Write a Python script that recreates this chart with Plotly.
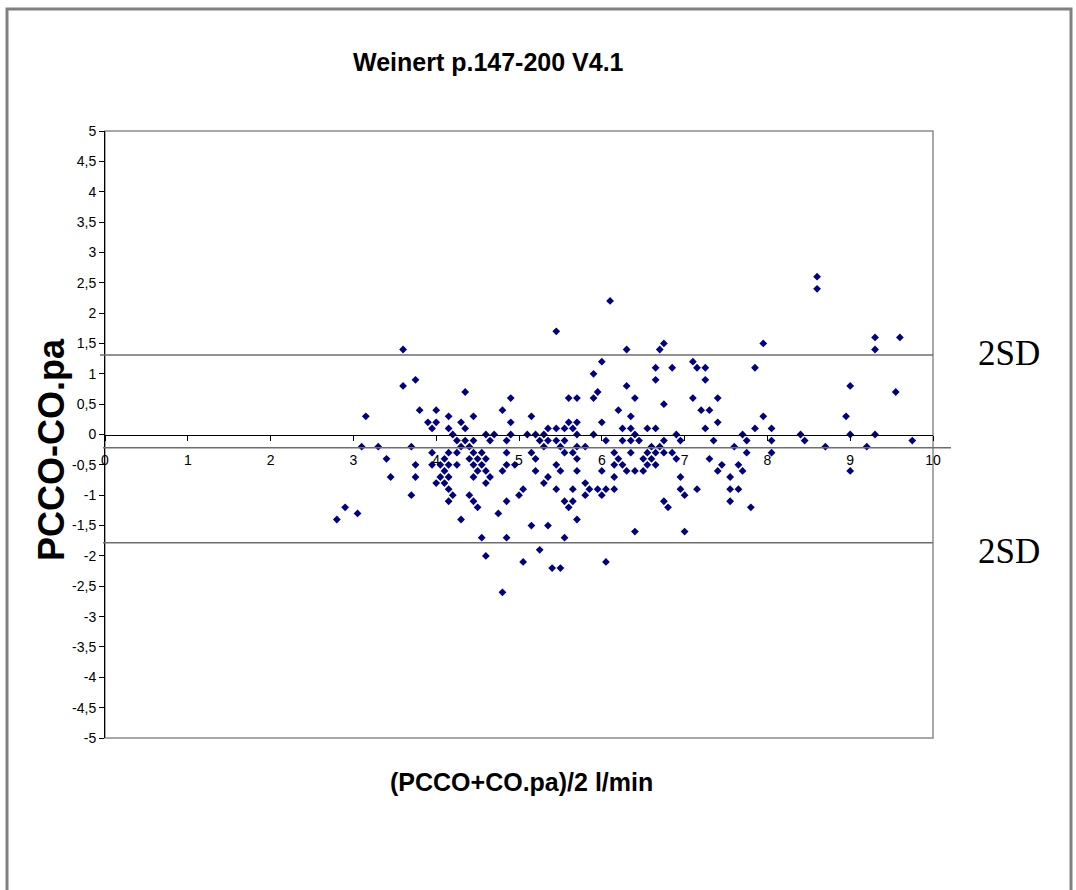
import plotly.graph_objects as go

# Bland-Altman data: mean of the two cardiac output readings (l/min)
# against their difference (PCCO - CO.pa), one entry per measurement pair.
mean_co = [
    8.6,
    8.6,
    6.1,
    5.45,
    9.3, 9.6,
    6.75, 7.95,
    3.6, 6.3, 6.7, 9.3,
    6.0, 7.1,
    6.65, 6.85, 7.15, 7.25, 7.85,
    5.9,
    3.75, 6.65, 7.25,
    3.6, 6.3, 9.0,
    4.35, 5.95, 9.55,
    4.9, 5.6, 5.7, 5.9, 6.4, 7.1, 7.4,
    6.75,
    3.8, 4.0, 4.8, 6.2, 7.2, 7.3,
    3.15, 4.15, 4.45, 5.15, 6.35, 7.95, 8.95,
    3.9, 4.0, 4.3, 4.9, 5.6, 5.7, 6.0, 7.4,
    3.95, 4.15, 4.35, 5.35, 5.45, 5.55, 5.65, 6.25, 6.35, 6.55, 6.65, 7.25, 7.85, 8.05,
    4.2, 4.6, 4.7, 4.9, 5.1, 5.2, 5.3, 5.7, 5.9, 6.4, 6.9, 7.7, 8.4, 9.0, 9.3,
    4.25, 4.35, 4.45, 4.65, 4.85, 5.25, 5.35, 5.45, 5.55, 6.05, 6.25, 6.35, 6.45, 6.75, 6.95, 7.35, 7.75, 8.05, 8.45, 9.75,
    3.1, 3.3, 3.7, 4.3, 4.4, 5.3, 5.5, 5.7, 5.8, 6.6, 6.7, 7.6, 8.7, 9.2,
    3.95, 4.15, 4.25, 4.45, 4.55, 4.85, 5.15, 5.55, 5.65, 6.15, 6.35, 6.55, 6.65, 6.75, 6.85, 7.75, 8.05,
    3.4, 4.1, 4.4, 4.5, 4.6, 5.2, 5.7, 6.2, 6.5, 6.6, 6.9, 7.3,
    3.75, 3.95, 4.05, 4.15, 4.25, 4.45, 4.55, 4.85, 4.95, 5.45, 6.15, 6.25, 6.55, 6.65, 7.45, 7.65,
    4.1, 4.5, 4.6, 4.8, 5.2, 5.5, 5.7, 6.0, 6.3, 6.4, 6.5, 7.4, 7.7, 9.0,
    3.45, 3.75, 4.05, 4.15, 4.45, 4.65, 5.35, 6.15, 6.95, 7.55,
    4.0, 4.1, 4.6, 5.3, 5.8,
    4.15, 5.05, 5.45, 5.65, 5.85, 5.95, 6.05, 6.15, 6.95, 7.15, 7.55, 7.65,
    3.7, 4.2, 4.4, 5.0, 5.8, 6.0, 7.0,
    4.15, 4.45, 4.85, 5.55, 5.65, 6.75, 7.55,
    2.9, 4.5, 5.6, 6.8, 7.8,
    3.05, 4.75,
    2.8, 4.3, 5.7,
    5.15, 5.35,
    6.4, 7.0,
    4.55, 4.85, 5.55,
    5.25,
    4.6,
    5.05, 6.05,
    5.4, 5.5,
    4.8,
]
diff_co = (
    [2.6] * 1 + [2.4] * 1 + [2.2] * 1 + [1.7] * 1 + [1.6] * 2 + [1.5] * 2
    + [1.4] * 4 + [1.2] * 2 + [1.1] * 5 + [1.0] * 1 + [0.9] * 3 + [0.8] * 3
    + [0.7] * 3 + [0.6] * 7 + [0.5] * 1 + [0.4] * 6 + [0.3] * 7 + [0.2] * 8
    + [0.1] * 14 + [0.0] * 15 + [-0.1] * 20 + [-0.2] * 14 + [-0.3] * 17
    + [-0.4] * 12 + [-0.5] * 16 + [-0.6] * 14 + [-0.7] * 10 + [-0.8] * 5
    + [-0.9] * 12 + [-1.0] * 7 + [-1.1] * 7 + [-1.2] * 5 + [-1.3] * 2
    + [-1.4] * 3 + [-1.5] * 2 + [-1.6] * 2 + [-1.7] * 3 + [-1.9] * 1
    + [-2.0] * 1 + [-2.1] * 2 + [-2.2] * 2 + [-2.6] * 1
)

# Mean difference and the +/- 2 SD limits of agreement
mean_diff = -0.22
upper_2sd = 1.31
lower_2sd = -1.785

y_ticks = [5, 4.5, 4, 3.5, 3, 2.5, 2, 1.5, 1, 0.5, 0, -0.5, -1, -1.5, -2,
           -2.5, -3, -3.5, -4, -4.5, -5]
y_tick_labels = ["5", "4,5", "4", "3,5", "3", "2,5", "2", "1,5", "1", "0,5", "0",
                 "-0,5", "-1", "-1,5", "-2", "-2,5", "-3", "-3,5", "-4", "-4,5", "-5"]
x_ticks = list(range(0, 11))
x_tick_labels = [str(v) for v in x_ticks]

W, H = 1076, 890
ML, MR, MT, MB = 105, 143, 131, 152
PW, PH = W - ML - MR, H - MT - MB


def px(x):
    return (x - ML) / PW


def py(y):
    return (H - MB - y) / PH


fig = go.Figure()
fig.add_trace(go.Scatter(
    x=mean_co, y=diff_co, mode="markers",
    marker=dict(symbol="diamond", size=6, color="#000080",
                line=dict(width=0)),
    showlegend=False, hoverinfo="x+y",
))

grey = "#6e6e6e"
shapes = [
    # plot area frame (top, right, bottom)
    dict(type="rect", xref="paper", yref="paper", x0=0, x1=1, y0=0, y1=1,
         line=dict(color="#8c8c8c", width=1.5), layer="below"),
    # outer chart border
    dict(type="rect", xref="paper", yref="paper", x0=px(7), x1=px(1071),
         y0=py(900), y1=py(9), line=dict(color="#808080", width=3)),
    # mean difference
    dict(type="line", xref="paper", yref="y", x0=px(103), x1=px(951),
         y0=mean_diff, y1=mean_diff, line=dict(color=grey, width=1.5)),
    # limits of agreement
    dict(type="line", xref="paper", yref="y", x0=px(100), x1=1,
         y0=upper_2sd, y1=upper_2sd, line=dict(color=grey, width=1.5)),
    dict(type="line", xref="paper", yref="y", x0=px(103), x1=1,
         y0=lower_2sd, y1=lower_2sd, line=dict(color=grey, width=1.5)),
]

label_font = dict(family="Liberation Sans, Arial", size=25, color="black")
sd_font = dict(family="Liberation Serif, Times New Roman", size=35, color="black")
annotations = [
    dict(text="<b>Weinert p.147-200 V4.1</b>", xref="paper", yref="paper",
         x=px(488), y=py(62), showarrow=False, font=label_font,
         xanchor="center", yanchor="middle"),
    dict(text="<b>(PCCO+CO.pa)/2 l/min</b>", xref="paper", yref="paper",
         x=px(521), y=py(782), showarrow=False, font=label_font,
         xanchor="center", yanchor="middle"),
    dict(text="<b>PCCO-CO.pa</b>", xref="paper", yref="paper",
         x=px(51), y=py(450), showarrow=False,
         font=dict(family="Liberation Sans, Arial", size=36, color="black"),
         textangle=-90, xanchor="center", yanchor="middle"),
    dict(text="2SD", xref="paper", yref="y", x=px(976), y=upper_2sd, yshift=1,
         showarrow=False, xanchor="left", yanchor="middle", font=sd_font),
    dict(text="2SD", xref="paper", yref="y", x=px(976), y=lower_2sd, yshift=-9,
         showarrow=False, xanchor="left", yanchor="middle", font=sd_font),
]

tick_font = dict(family="Liberation Sans, Arial", size=14, color="black")
fig.update_layout(
    width=W, height=H,
    margin=dict(l=ML, r=MR, t=MT, b=MB, pad=0),
    paper_bgcolor="white", plot_bgcolor="white",
    shapes=shapes, annotations=annotations,
    xaxis=dict(range=[0, 10], tickvals=x_ticks, ticktext=x_tick_labels,
               anchor="free", position=0.5, showline=True, linecolor="black",
               linewidth=1, ticks="outside", ticklen=5, tickcolor="black",
               tickfont=tick_font, showgrid=False, zeroline=False,
               ticklabelstandoff=8, fixedrange=True),
    yaxis=dict(range=[-5, 5], tickvals=y_ticks, ticktext=y_tick_labels,
               showline=True, linecolor="black", linewidth=1, ticks="outside",
               ticklen=5, tickcolor="black", tickfont=tick_font, showgrid=False,
               zeroline=False, fixedrange=True),
)

fig.write_html("out.html")
